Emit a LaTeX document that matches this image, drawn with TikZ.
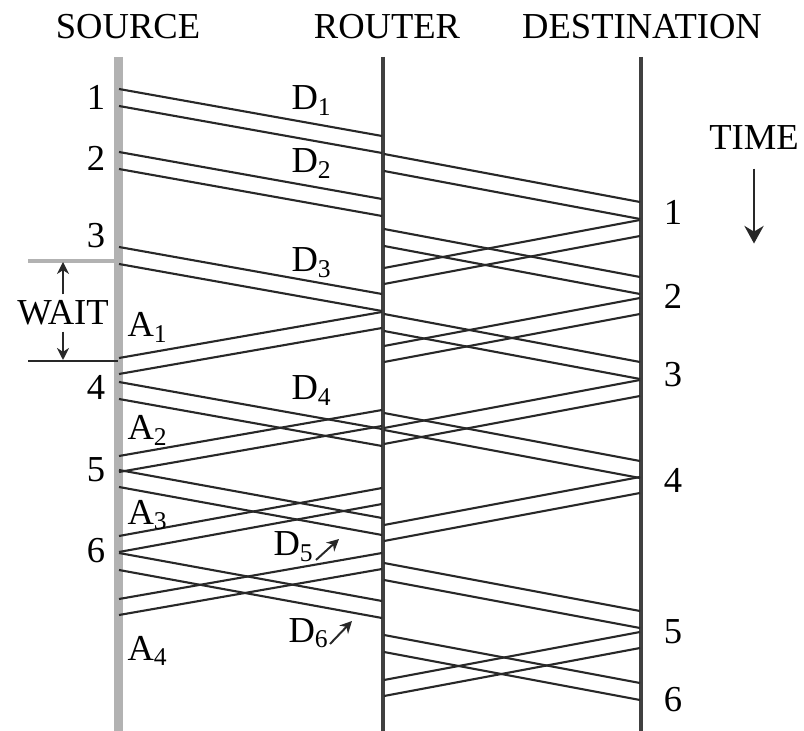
\documentclass[tikz,border=0pt]{standalone}
\usepackage{fontspec}
\setmainfont{Liberation Serif}
\usetikzlibrary{arrows.meta}
\definecolor{ink}{RGB}{40,40,40}
\definecolor{lane}{RGB}{64,64,64}
\definecolor{haze}{RGB}{178,178,178}
\tikzset{
  >={Stealth[length=2.2mm,width=2.4mm]},
  msg/.style={draw=ink,line width=0.75pt},
  axis/.style={draw=#1,line width=1.6pt},
  axis/.default=lane,
  tag/.style={font=\fontsize{13}{15}\selectfont,inner sep=0pt},
  sub/.style={tag,anchor=base west},
  tick/.style={->,ink,line width=0.7pt,>={Stealth[length=1.5mm,width=1.5mm]}},
}

\begin{document}
\begin{tikzpicture}[x=0.0125cm,y=-0.0125cm]
  \useasboundingbox (0,0) rectangle (804,731);
  % heads
  \node[tag] (src) at (128,27) {SOURCE};
  \node[tag] (rtr) at (387,27) {ROUTER};
  \node[tag] (dst) at (642,27) {DESTINATION};
  % time lines
  \draw[axis=haze,line width=3.2pt] (118,57) -- (118,731);
  \draw[axis] (383,57) -- (383,731);
  \draw[axis] (641,57) -- (641,731);
  % data packets: source start / router in / router out / destination in
  \foreach \s/\ri/\ro/\d in {89/136/154/202,152/199/229/277,247/294/314/362,
      382/429/413/461,470/518/563/611,553/601/635/683}{
    \foreach \o in {0,17}{
      \draw[msg] (119,{\s+\o}) -- (382,{\ri+\o});
      \draw[msg] (384,{\ro+\o}) -- (640,{\d+\o});
    }
  }
  % acks: destination out / router in / router out / source in
  \foreach \d/\ri/\ro/\s in {220/268/312/358,298/346/410/456,380/428/488/536,477/525/553/599}{
    \foreach \o in {0,16}{
      \draw[msg] (640,{\d+\o}) -- (384,{\ri+\o});
      \draw[msg] (382,{\ro+\o}) -- (119,{\s+\o});
    }
  }
  \foreach \o in {0,16} \draw[msg] (640,{632+\o}) -- (384,{680+\o});
  % packet numbers
  \foreach \y [count=\i] in {97,158,236,387,470,551}
    \node[tag] (s\i) at (96,\y) {\i};
  \foreach \y [count=\i] in {212,296,375,480,632,700}
    \node[tag] (d\i) at (673,\y) {\i};
  % data and ack labels
  \node[sub] (D1) at (291,110) {D\textsubscript{1}};
  \node[sub] (D2) at (291,173) {D\textsubscript{2}};
  \node[sub] (D3) at (291,272) {D\textsubscript{3}};
  \node[sub] (D4) at (291,400) {D\textsubscript{4}};
  \node[sub] (D5) at (273,556) {D\textsubscript{5}};
  \node[sub] (D6) at (288,642) {D\textsubscript{6}};
  \draw[tick] (316,560) -- (339,539);
  \draw[tick] (330,644) -- (352,621);
  \node[sub] (A1) at (127,337) {A\textsubscript{1}};
  \node[sub] (A2) at (127,440) {A\textsubscript{2}};
  \node[sub] (A3) at (127,524) {A\textsubscript{3}};
  \node[sub] (A4) at (127,660) {A\textsubscript{4}};
  % wait interval
  \draw[haze,line width=1.6pt] (28,261) -- (118,261);
  \draw[ink,line width=0.8pt] (28,361) -- (118,361);
  \node[tag,inner ysep=2pt] (wait) at (63,313) {WAIT};
  \draw[tick] (wait.north) -- (63,262);
  \draw[tick] (wait.south) -- (63,360);
  % time arrow
  \node[tag] (time) at (754,138) {TIME};
  \draw[->,ink,line width=0.9pt] (time.south) ++(0,18) -- ++(0,75);
\end{tikzpicture}
\end{document}
